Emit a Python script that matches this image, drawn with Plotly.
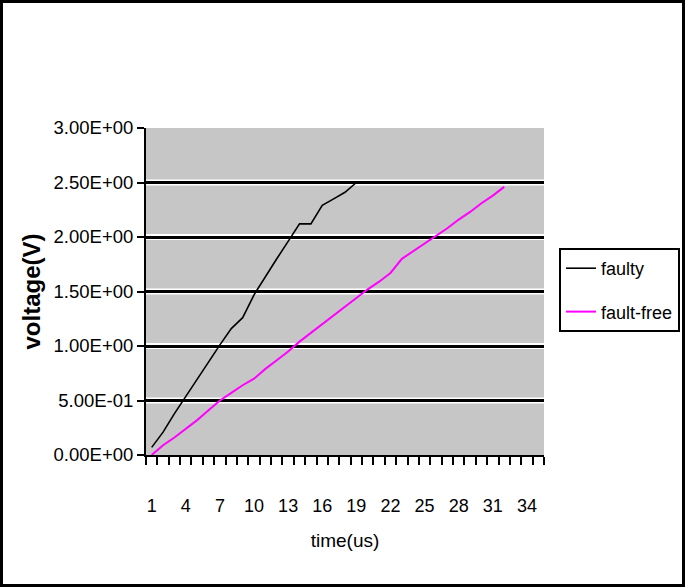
"""faulty vs fault-free node voltage over time — Excel-style line chart."""
import plotly.graph_objects as go

# category axis: time steps 1..35 (us)
steps = list(range(1, 36))
tick_steps = [1, 4, 7, 10, 13, 16, 19, 22, 25, 28, 31, 34]

faulty = [0.07, 0.21, 0.38, 0.54, 0.70, 0.86, 1.01, 1.16, 1.26, 1.47,
          1.64, 1.80, 1.96, 2.12, 2.12, 2.29, 2.35, 2.41, 2.50]
fault_free = [0.00, 0.09, 0.16, 0.24, 0.32, 0.41, 0.50, 0.57, 0.64, 0.70,
              0.79, 0.87, 0.95, 1.04, 1.12, 1.20, 1.28, 1.36, 1.44, 1.52,
              1.59, 1.67, 1.80, 1.87, 1.94, 2.01, 2.08, 2.16, 2.23, 2.31,
              2.38, 2.46]

y_vals = [0, 0.5, 1.0, 1.5, 2.0, 2.5, 3.0]
y_text = ["0.00E+00", "5.00E-01", "1.00E+00", "1.50E+00",
          "2.00E+00", "2.50E+00", "3.00E+00"]

FONT = "Liberation Sans, Arial, sans-serif"

fig = go.Figure()
fig.add_trace(go.Scatter(x=steps[:len(faulty)], y=faulty, mode="lines", name="faulty",
                         line=dict(color="#000000", width=1.6), legendgroup="a"))
fig.add_trace(go.Scatter(x=steps[:len(fault_free)], y=fault_free, mode="lines", name="fault-free",
                         line=dict(color="#ff00ff", width=2), legendgroup="b"))

# white edges either side of each gridline (Excel rendering look)
for v in y_vals[1:-1]:
    fig.add_shape(type="line", xref="paper", x0=0, x1=1, yref="y", y0=v, y1=v,
                  line=dict(color="white", width=6), layer="below")

# page frame
W, H = 685, 587
ml, mr, mt, mb = 146, 141, 128, 132
pw, ph = W - ml - mr, H - mt - mb
fig.add_shape(type="rect", xref="paper", yref="paper",
              x0=-(ml - 1.5) / pw, x1=1 + (mr - 1.5) / pw,
              y0=-(mb - 1.5) / ph, y1=1 + (mt - 1.5) / ph,
              line=dict(color="#000000", width=3))

fig.update_xaxes(range=[0.5, 35.5], tickmode="array", tickvals=tick_steps,
                 ticktext=[str(t) for t in tick_steps], ticks="", showgrid=False,
                 showline=True, linecolor="#000000", linewidth=2, zeroline=False,
                 automargin=False,
                 tickfont=dict(family=FONT, size=18, color="#000000"),
                 ticklabelstandoff=33,
                 minor=dict(tickmode="linear", tick0=0.5, dtick=1, ticks="outside",
                            ticklen=8, tickwidth=2, tickcolor="#000000", showgrid=False),
                 title=dict(text="time(us)", standoff=19,
                            font=dict(family=FONT, size=19, color="#000000")))
fig.update_yaxes(range=[0, 3], tickmode="array", tickvals=y_vals, ticktext=y_text,
                 ticks="outside", ticklen=7, tickwidth=2, tickcolor="#000000",
                 showgrid=True, gridcolor="#000000", gridwidth=3,
                 showline=True, linecolor="#000000", linewidth=2, zeroline=False,
                 automargin=False,
                 tickfont=dict(family=FONT, size=18.5, color="#000000"),
                 title=dict(text="<b>voltage(V)</b>", standoff=6,
                            font=dict(family=FONT, size=24, color="#000000")))

# legend placed against the whole page so it does not push the right margin
fig.update_layout(width=W, height=H, margin=dict(l=ml, r=mr, t=mt, b=mb),
                  paper_bgcolor="#ffffff", plot_bgcolor="#c6c6c6",
                  legend=dict(xref="container", yref="container",
                              x=559 / W, y=1 - 248 / H, xanchor="left", yanchor="top",
                              bordercolor="#000000", borderwidth=2, bgcolor="#ffffff",
                              tracegroupgap=17,
                              font=dict(family=FONT, size=18, color="#000000")),
                  showlegend=True)

# drop the browser's default page margin/scrollbars so the figure sits at the corner
css = ("document.documentElement.style.margin='0';"
       "document.documentElement.style.overflow='hidden';"
       "document.body.style.margin='0';document.body.style.overflow='hidden';")
fig.write_html("out.html", post_script=css, config={"displayModeBar": False})
